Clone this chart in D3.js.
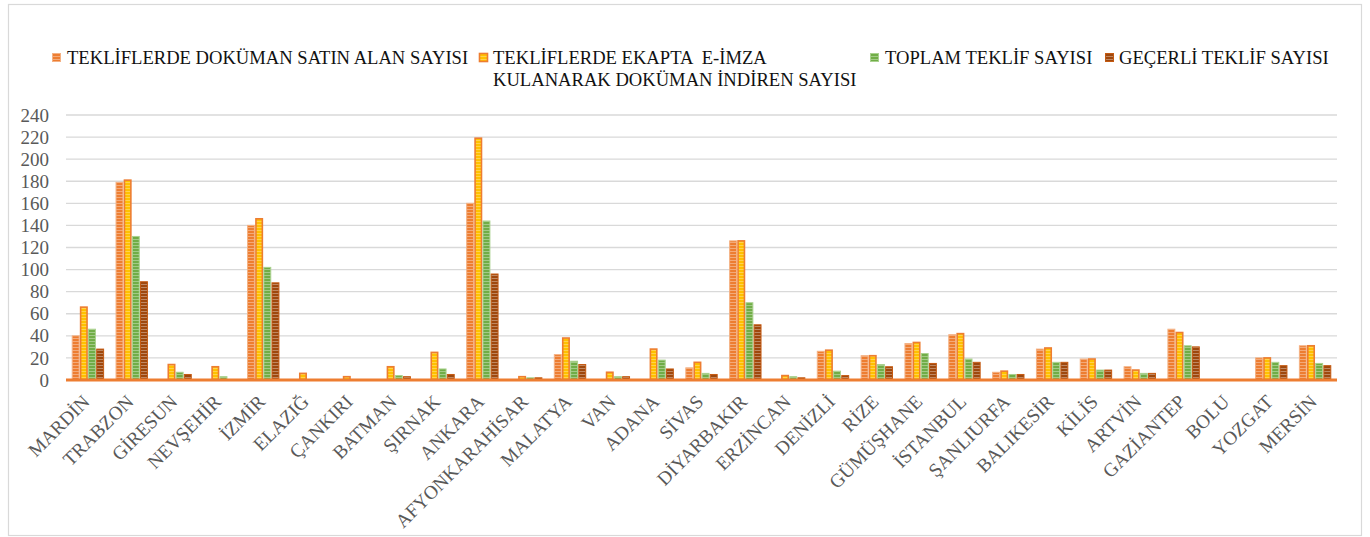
<!DOCTYPE html>
<html>
<head>
<meta charset="utf-8">
<script src="https://cdn.jsdelivr.net/npm/d3@7"></script>
<style>
  body { margin: 0; background: #fff; }
  svg { display: block; }
  text { font-family: "Liberation Serif", "Times New Roman", serif; }
</style>
</head>
<body>
<svg id="chartSvg" width="1370" height="537"></svg>
<script>
// il bazinda ihale teklif istatistikleri
const categories = ["MARDİN", "TRABZON", "GİRESUN", "NEVŞEHİR", "İZMİR", "ELAZIĞ", "ÇANKIRI", "BATMAN", "ŞIRNAK",
    "ANKARA", "AFYONKARAHİSAR", "MALATYA", "VAN", "ADANA", "SİVAS", "DİYARBAKIR", "ERZİNCAN", "DENİZLİ", "RİZE",
    "GÜMÜŞHANE", "İSTANBUL", "ŞANLIURFA", "BALIKESİR", "KİLİS", "ARTVİN", "GAZİANTEP", "BOLU", "YOZGAT", "MERSİN"];

const seriesNames = ["TEKLİFLERDE DOKÜMAN SATIN ALAN SAYISI",
    "TEKLİFLERDE EKAPTA  E-İMZA KULANARAK DOKÜMAN İNDİREN SAYISI",
    "TOPLAM TEKLİF SAYISI",
    "GEÇERLİ TEKLİF SAYISI"];

const docPurchased = [40, 179, 0, 0, 140, 0, 0, 0, 0, 160, 0, 23, 0, 0, 11, 126, 0, 26, 22, 33, 41, 7, 28, 19, 12, 46, 0, 20, 31];
const ekapDownloaded = [66, 181, 14, 12, 146, 6, 3, 12, 25, 219, 3, 38, 7, 28, 16, 126, 4, 27, 22, 34, 42, 8, 29, 19, 9, 43, 0, 20, 31];
const totalOffers = [46, 130, 7, 3, 102, 0, 0, 4, 10, 144, 2, 17, 3, 18, 6, 70, 3, 8, 14, 24, 19, 5, 16, 9, 6, 31, 0, 16, 15];
const validOffers = [28, 89, 5, 0, 88, 0, 0, 3, 5, 96, 2, 14, 3, 10, 5, 50, 2, 4, 12, 15, 16, 5, 16, 9, 6, 30, 0, 13, 13];

const yTicks = [0, 20, 40, 60, 80, 100, 120, 140, 160, 180, 200, 220, 240];

const seriesValues = [docPurchased, ekapDownloaded, totalOffers, validOffers];
const colors = ["#ED7D31", "#FFC000", "#70AD47", "#9E480E"];
const borders = ["#F4B183", "#ED7D31", "#A9D18E", "#C55A11"];
const FONT = "Liberation Serif";

const svg = d3.select("#chartSvg");

// outer frame
svg.append("rect")
    .attr("x", 8.5).attr("y", 4.5)
    .attr("width", 1353).attr("height", 531)
    .attr("fill", "#fff")
    .attr("stroke", "#D9D9D9")
    .attr("stroke-width", 1.2);

// stripe patterns
const defs = svg.append("defs");
colors.forEach((c, i) => {
    const p = defs.append("pattern")
        .attr("id", "stripe" + i)
        .attr("patternUnits", "userSpaceOnUse")
        .attr("width", 6).attr("height", 3);
    p.append("rect").attr("width", 6).attr("height", 3).attr("fill", c);
    p.append("rect").attr("y", 2).attr("width", 6).attr("height", 1)
        .attr("fill", "#fff").attr("opacity", i === 1 ? 0.3 : 0.35);
});

const plot = { left: 66, right: 1337, top: 115, bottom: 380 };

const x0 = d3.scaleBand()
    .domain(categories)
    .range([plot.left, plot.right])
    .paddingInner(0.25)
    .paddingOuter(0.125);

const x1 = d3.scaleBand()
    .domain(d3.range(seriesValues.length))
    .range([0, x0.bandwidth()])
    .padding(0.03);

const y = d3.scaleLinear()
    .domain([0, 240])
    .range([plot.bottom, plot.top]);

// gridlines
svg.append("g")
    .selectAll("line")
    .data(yTicks.filter(t => t > 0))
    .enter().append("line")
    .attr("x1", plot.left).attr("x2", plot.right)
    .attr("y1", d => y(d)).attr("y2", d => y(d))
    .attr("stroke", "#D9D9D9")
    .attr("stroke-width", 1.3);

// y axis labels
const yAxis = svg.append("g")
    .attr("transform", `translate(${plot.left - 17},0)`)
    .call(d3.axisLeft(y).tickValues(yTicks).tickSize(0).tickPadding(0))
    .attr("font-family", FONT)
    .attr("font-size", 19);
yAxis.select(".domain").remove();
yAxis.selectAll("text")
    .attr("fill", "#595959")
    .attr("font-family", FONT);

// bars
const groups = svg.append("g")
    .selectAll("g")
    .data(categories)
    .enter().append("g")
    .attr("transform", d => `translate(${x0(d)},0)`);

groups.selectAll("rect")
    .data((d, ci) => seriesValues.map((vals, si) => ({ si, v: vals[ci] })))
    .enter().append("rect")
    .attr("x", d => x1(d.si) + (d.si === 1 ? 0.75 : 0.5))
    .attr("y", d => y(d.v))
    .attr("width", d => x1.bandwidth() - (d.si === 1 ? 1.5 : 1))
    .attr("height", d => y(0) - y(d.v))
    .attr("fill", d => `url(#stripe${d.si})`)
    .attr("stroke", d => d.v > 0 || d.si === 1 ? borders[d.si] : "none")
    .attr("stroke-width", d => d.si === 1 ? 1.6 : 1);

// x axis line
svg.append("line")
    .attr("x1", plot.left).attr("x2", plot.right)
    .attr("y1", plot.bottom).attr("y2", plot.bottom)
    .attr("stroke", "#ED7D31")
    .attr("stroke-width", 3);

// category labels
svg.append("g")
    .selectAll("text")
    .data(categories)
    .enter().append("text")
    .attr("transform", d => `translate(${x0(d) + x0.bandwidth() / 2 + 3},${plot.bottom + 23}) rotate(-45)`)
    .attr("text-anchor", "end")
    .attr("fill", "#595959")
    .attr("font-family", FONT)
    .attr("font-size", 19.2)
    .text(d => d);

// legend
const legendItems = [
    { mx: 52, tx: 67, lines: ["TEKLİFLERDE DOKÜMAN SATIN ALAN SAYISI"] },
    { mx: 479, tx: 493, lines: ["TEKLİFLERDE EKAPTA  E-İMZA", "KULANARAK DOKÜMAN İNDİREN SAYISI"] },
    { mx: 870, tx: 885, lines: ["TOPLAM TEKLİF SAYISI"] },
    { mx: 1105, tx: 1119, lines: ["GEÇERLİ TEKLİF SAYISI"] }
];

const legend = svg.append("g").attr("class", "legend");
legendItems.forEach((item, i) => {
    legend.append("rect")
        .attr("x", item.mx + 0.5).attr("y", 53.5)
        .attr("width", 8).attr("height", 8)
        .attr("fill", `url(#stripe${i})`)
        .attr("stroke", borders[i])
        .attr("stroke-width", i === 1 ? 1.6 : 1);
    const t = legend.append("text")
        .attr("x", item.tx)
        .attr("y", 64)
        .attr("fill", "#111")
        .attr("font-family", FONT)
        .attr("font-size", 18.6)
        .attr("xml:space", "preserve")
        .style("white-space", "pre");
    item.lines.forEach((ln, li) => {
        t.append("tspan")
            .attr("x", item.tx)
            .attr("dy", li === 0 ? 0 : 22)
            .text(ln);
    });
});
</script>
</body>
</html>
